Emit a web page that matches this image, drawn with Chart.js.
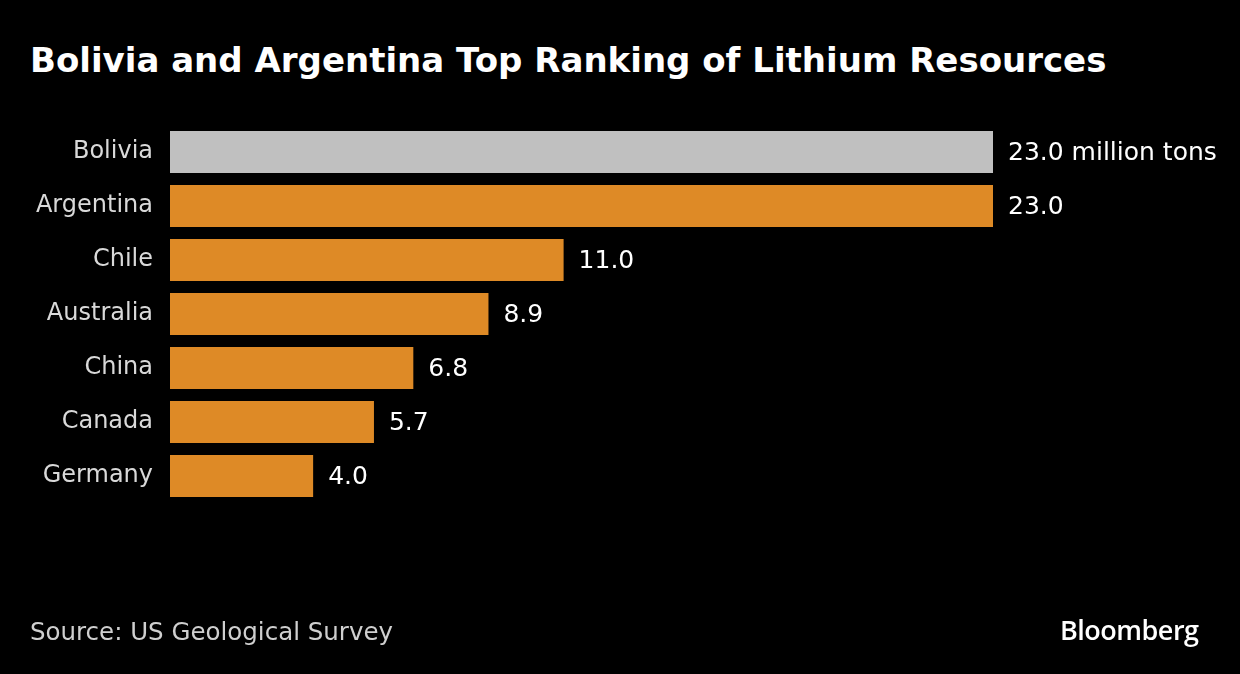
<!DOCTYPE html>
<html>
<head>
<meta charset="utf-8">
<script src="https://cdn.jsdelivr.net/npm/chart.js@4/dist/chart.umd.min.js"></script>
<style>
  html, body { margin: 0; padding: 0; background: #000; }
  #wrap { position: relative; width: 1240px; height: 674px; background: #000; overflow: hidden; }
  #myChart { position: absolute; left: 0; top: 0; }
  .title { position: absolute; left: 30px; top: 40px; color: #fff; font-family: 'DejaVu Sans'; font-weight: bold; font-size: 34px; line-height: 40px; white-space: nowrap; }
  .source { position: absolute; left: 30px; top: 617px; color: #cfcfcf; font-family: 'DejaVu Sans'; font-size: 24.5px; line-height: 30px; white-space: nowrap; }
  .logo { position: absolute; left: 1060px; top: 613px; color: #fff; font-family: 'Open Sans'; font-weight: 600; font-size: 27px; line-height: 34px; letter-spacing: -0.5px; }
</style>
</head>
<body>
<div id="wrap">
  <div class="title">Bolivia and Argentina Top Ranking of Lithium Resources</div>
  <canvas id="myChart" width="1240" height="674"></canvas>
  <div class="source">Source: US Geological Survey</div>
  <div class="logo">Bloomberg</div>
</div>
<script>
const countries = ['Bolivia', 'Argentina', 'Chile', 'Australia', 'China', 'Canada', 'Germany'];
const resources = [23.0, 23.0, 11.0, 8.9, 6.8, 5.7, 4.0];
const barColors = ['#c0c0c0', '#de8a26', '#de8a26', '#de8a26', '#de8a26', '#de8a26', '#de8a26'];

// labels at bar ends
const valueLabels = {
    id: 'valueLabels',
    afterDatasetsDraw(chart) {
        const ctx = chart.ctx;
        const meta = chart.getDatasetMeta(0);
        ctx.save();
        ctx.font = '25px "DejaVu Sans"';
        ctx.fillStyle = '#ffffff';
        ctx.textBaseline = 'middle';
        ctx.textAlign = 'left';
        meta.data.forEach(function(bar, i) {
            let txt = resources[i].toFixed(1);
            if (i === 0) txt += ' million tons';
            ctx.fillText(txt, bar.x + 15, bar.y + 1);
        });
        ctx.restore();
    }
};

const config = {
    type: 'bar',
    data: {
        labels: countries,
        datasets: [{
            data: resources,
            backgroundColor: barColors,
            borderWidth: 0,
            categoryPercentage: 1.0,
            barPercentage: 0.78,
        }]
    },
    options: {
        indexAxis: 'y',
        responsive: false,
        animation: false,
        layout: {
            padding: { left: 0, right: 247, top: 125, bottom: 171 }
        },
        plugins: {
            legend: { display: false },
            tooltip: { enabled: false }
        },
        scales: {
            x: {
                display: false,
                min: 0,
                max: 23,
            },
            y: {
                afterFit: function(scale) { scale.width = 170; },
                grid: { display: false, drawTicks: false },
                border: { display: false },
                ticks: {
                    color: '#d9d9d9',
                    padding: 17,
                    font: { family: 'DejaVu Sans', size: 24 }
                }
            }
        }
    },
    plugins: [valueLabels]
};
var myChart = new Chart(document.getElementById('myChart'), config);
</script>
</body>
</html>
